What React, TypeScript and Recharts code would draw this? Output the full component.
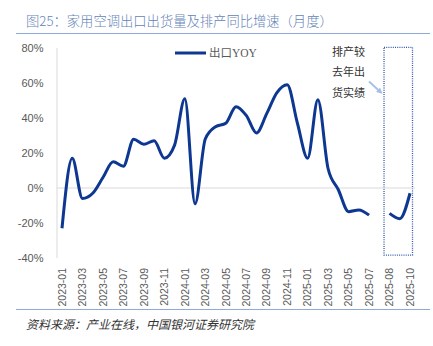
import React from "react";
import {
  LineChart,
  Line,
  XAxis,
  YAxis,
  ReferenceLine,
  ReferenceArea,
} from "recharts";

const months: string[] = [
  "2023-01", "2023-02", "2023-03", "2023-04", "2023-05", "2023-06",
  "2023-07", "2023-08", "2023-09", "2023-10", "2023-11", "2023-12",
  "2024-01", "2024-02", "2024-03", "2024-04", "2024-05", "2024-06",
  "2024-07", "2024-08", "2024-09", "2024-10", "2024-11", "2024-12",
  "2025-01", "2025-02", "2025-03", "2025-04", "2025-05", "2025-06",
  "2025-07", "", "2025-08", "2025-09", "2025-10",
];

const exportYoY: (number | null)[] = [
  -23, 17, -6, -3, 6, 15,
  12.5, 27.8, 25, 27, 17, 24.5,
  51, -9, 28, 35, 37, 46.5,
  41.5, 31.5, 42.5, 54.5, 59, 37,
  17, 50.5, 11, -1, -13.5, -12.5,
  -15.5, null, -14.5, -17.5, -3,
];

const tickLabels: string[] = [
  "2023-01", "2023-03", "2023-05", "2023-07", "2023-09", "2023-11",
  "2024-01", "2024-03", "2024-05", "2024-07", "2024-09", "2024-11",
  "2025-01", "2025-03", "2025-05", "2025-07", "2025-08", "2025-10",
];

const yTicks: number[] = [-40, -20, 0, 20, 40, 60, 80];

const seriesName = "出口YOY";
const titleText = "图25：家用空调出口出货量及排产同比增速（月度）";
const sourceText = "资料来源：产业在线，中国银河证券研究院";
const noteLines: string[] = ["排产较", "去年出", "货实绩"];

const data = months.map((m, i) => ({ month: m, value: exportYoY[i] }));

const LINE_COLOR = "#0d3791";
const RULE_COLOR = "#8eaadb";

const XTick = (props: any) => {
  const { x, payload } = props;
  if (!tickLabels.includes(payload.value)) return null;
  return (
    <g transform={`translate(${x},268) rotate(-90)`}>
      <text
        x={0}
        y={0}
        dy="0.36em"
        textAnchor="end"
        fill="#595959"
        fontSize={10.5}
        fontFamily="'Liberation Sans', Arial, sans-serif"
      >
        {payload.value}
      </text>
    </g>
  );
};

const BoxShape = (props: any) => {
  const { x, y, width, height } = props;
  return (
    <rect
      x={x - 5.5}
      y={y}
      width={width + 8}
      height={height}
      fill="none"
      stroke="#2f57a8"
      strokeWidth={1.3}
      strokeDasharray="1 1.2"
    />
  );
};

export default function App() {
  return (
    <div
      style={{
        position: "absolute",
        left: 0,
        top: 0,
        width: 433,
        height: 346,
        background: "#fff",
        overflow: "hidden",
      }}
    >
      <div
        style={{
          position: "absolute",
          left: 26,
          top: 12,
          fontSize: 13.3,
          lineHeight: "18px",
          color: "#6483b8",
          fontFamily: "'Noto Sans CJK SC', sans-serif",
          fontWeight: 300,
          whiteSpace: "nowrap",
        }}
      >
        {titleText}
      </div>
      <div
        style={{
          position: "absolute",
          left: 16,
          top: 33,
          width: 414,
          height: 1,
          background: RULE_COLOR,
        }}
      />
      <div style={{ position: "absolute", left: 0, top: 0 }}>
        <LineChart
          width={433}
          height={346}
          data={data}
          margin={{ top: 48, right: 18, bottom: 0, left: 0 }}
        >
          <XAxis
            dataKey="month"
            type="category"
            interval={0}
            axisLine={false}
            tickLine={false}
            padding={{ left: 5, right: 5 }}
            tick={<XTick />}
            height={88}
          />
          <YAxis
            domain={[-40, 80]}
            ticks={yTicks}
            interval={0}
            tickFormatter={(v: number) => `${v}%`}
            axisLine={{ stroke: "#d9d9d9", strokeWidth: 1 }}
            tickLine={false}
            tickSize={0}
            tickMargin={13.5}
            width={57}
            tick={{
              fill: "#595959",
              fontSize: 11,
              fontFamily: "'Liberation Sans', Arial, sans-serif",
            }}
          />
          <ReferenceLine y={0} stroke="#d9d9d9" strokeWidth={1} />
          <ReferenceArea
            x1="2025-08"
            x2="2025-10"
            y1={-38.3}
            y2={80.4}
            ifOverflow="visible"
            shape={<BoxShape />}
          />
          <Line
            type="monotone"
            dataKey="value"
            name={seriesName}
            stroke={LINE_COLOR}
            strokeWidth={3}
            dot={false}
            activeDot={false}
            connectNulls={false}
            isAnimationActive={false}
          />
        </LineChart>
      </div>
      <svg
        width={433}
        height={346}
        style={{ position: "absolute", left: 0, top: 0, pointerEvents: "none" }}
      >
        <line x1={175} y1={53} x2={206} y2={53} stroke={LINE_COLOR} strokeWidth={3} />
        <text
          x={209}
          y={53}
          dy="0.36em"
          fontSize={11.5}
          fill="#595959"
          fontFamily="'Liberation Serif', 'Noto Sans CJK SC', serif"
        >
          {seriesName}
        </text>
        <defs>
          <marker
            id="arrowHead"
            markerWidth="6"
            markerHeight="6"
            refX="4"
            refY="3"
            orient="auto"
            markerUnits="userSpaceOnUse"
          >
            <path d="M0,0 L6,3 L0,6 Z" fill="#a7bfe6" />
          </marker>
        </defs>
        <line
          x1={369}
          y1={81.5}
          x2={381}
          y2={92.5}
          stroke="#a7bfe6"
          strokeWidth={1.8}
          markerEnd="url(#arrowHead)"
        />
      </svg>
      {noteLines.map((t, i) => (
        <div
          key={t}
          style={{
            position: "absolute",
            left: 332,
            top: 44 + i * 20.3,
            fontSize: 11,
            lineHeight: "15px",
            color: "#333",
            fontFamily: "'Noto Sans CJK SC', serif",
            whiteSpace: "nowrap",
          }}
        >
          {t}
        </div>
      ))}
      <div
        style={{
          position: "absolute",
          left: 16,
          top: 309,
          width: 414,
          height: 1,
          background: RULE_COLOR,
        }}
      />
      <div
        style={{
          position: "absolute",
          left: 26,
          top: 315,
          fontSize: 12,
          lineHeight: "17px",
          color: "#333",
          fontStyle: "italic",
          fontFamily: "'Noto Sans CJK SC', sans-serif",
          whiteSpace: "nowrap",
        }}
      >
        {sourceText}
      </div>
    </div>
  );
}
